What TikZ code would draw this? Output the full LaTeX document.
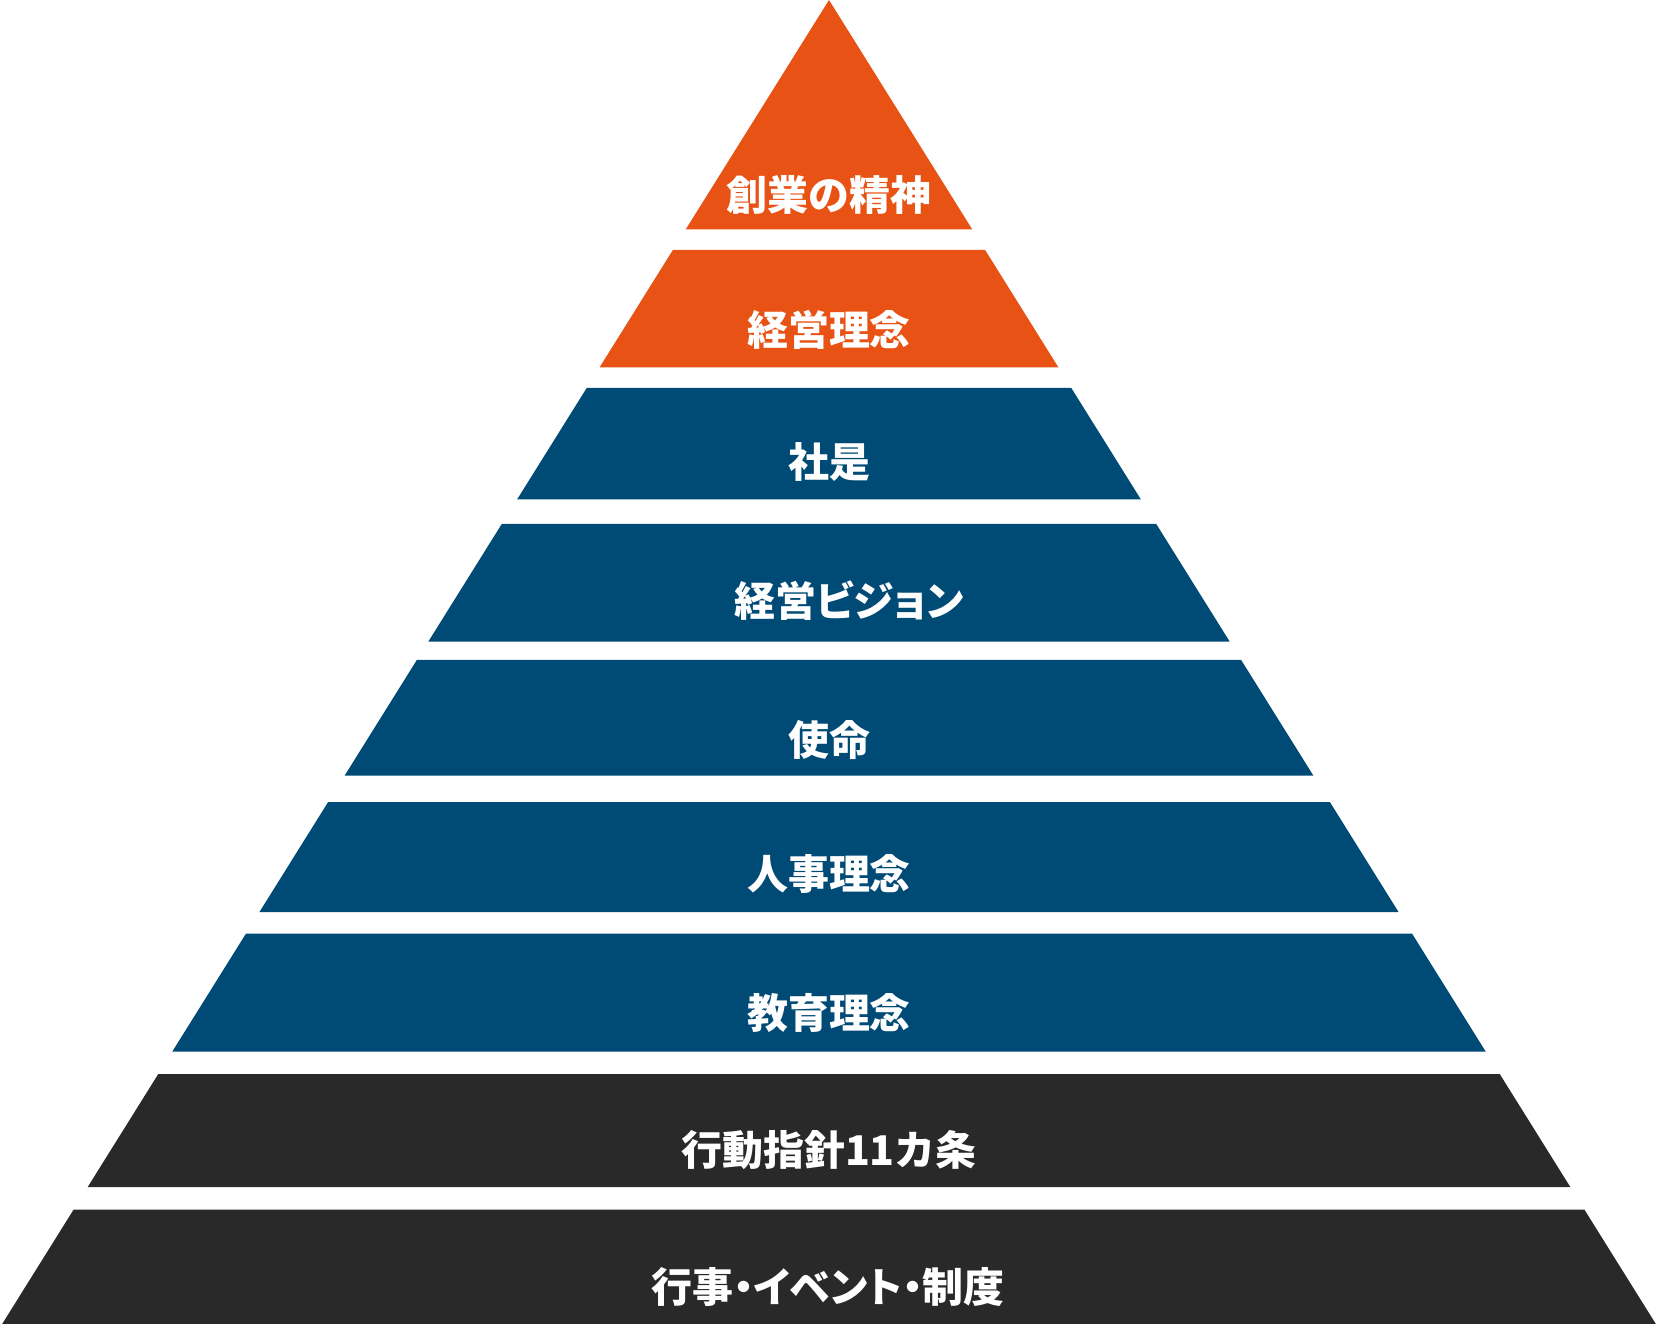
\documentclass[tikz,border=0pt]{standalone}
\usepackage{fontspec}
\newfontfamily\jp{Noto Sans CJK JP}
\newfontfamily\jpp{Noto Sans CJK JP}[RawFeature=+palt]
\definecolor{orng}{HTML}{E85315}
\definecolor{navy}{HTML}{004A76}
\definecolor{dark}{HTML}{292929}
\begin{document}
\begin{tikzpicture}[x=0.02cm,y=-0.02cm,
  lbl/.style={text=white,font=\jp\bfseries\fontsize{23.3}{28}\selectfont,inner sep=0pt,anchor=center},
  plbl/.style={lbl,font=\jpp\bfseries\fontsize{23.3}{28}\selectfont}]
\useasboundingbox (0,0) rectangle (1658,1324);
\def\k{0.6245}
\def\cx{829}
\fill[orng] (\cx,0) -- ({\cx+\k*229.3},229.3) -- ({\cx-\k*229.3},229.3) -- cycle;
\foreach \t/\b/\c in {250/367.5/orng, 388/499.3/navy, 524/641.7/navy, 660/775.7/navy, 802/912/navy, 933.7/1051.7/navy, 1074/1187/dark, 1209.7/1324/dark}{
  \fill[\c] ({\cx-\k*\t},\t) -- ({\cx+\k*\t},\t) -- ({\cx+\k*\b},\b) -- ({\cx-\k*\b},\b) -- cycle;
}
\node[lbl] (l1) at (829,194.6) {創業の精神};
\node[lbl] (l2) at (829,329.9) {経営理念};
\node[lbl] (l3) at (829,462) {社是};
\node[plbl] (l4) at (849,600.6) {経営ビジョン};
\node[lbl] (l5) at (829,740) {使命};
\node[lbl] (l6) at (829,874.5) {人事理念};
\node[lbl] (l7) at (829,1013) {教育理念};
\node[lbl] (l8) at (829,1150.5) {行動指針11カ条};
\node[plbl] (l9) at (828,1287) {行事・イベント・制度};
\end{tikzpicture}
\end{document}
